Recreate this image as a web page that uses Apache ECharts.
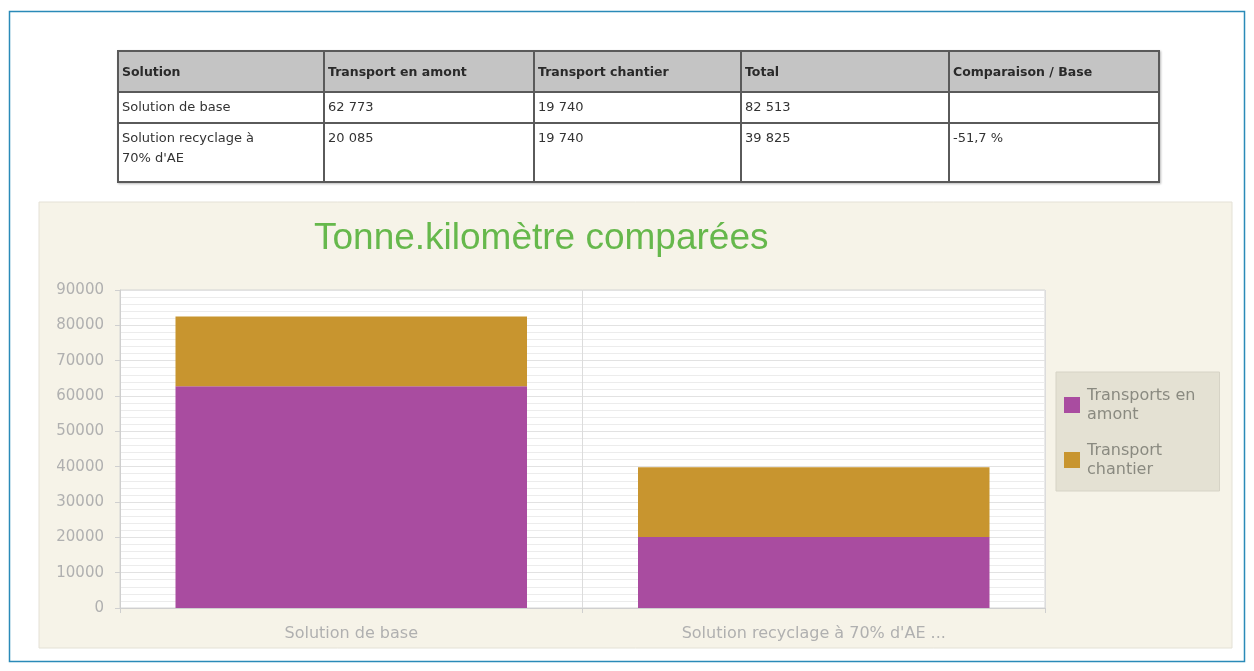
<!DOCTYPE html>
<html>
<head>
<meta charset="utf-8">
<script src="https://cdn.jsdelivr.net/npm/echarts@6/dist/echarts.min.js"></script>
<style>
html,body{margin:0;padding:0;background:#fff;width:1254px;height:671px;overflow:hidden;}
#chart{position:absolute;left:0;top:0;width:1254px;height:671px;}
#tbl{position:absolute;left:117px;top:50px;border-collapse:collapse;font-family:"DejaVu Sans",sans-serif;font-size:13px;color:#333;box-shadow:1px 1px 2px #bbb;}
#tbl td,#tbl th{border:2px solid #5a5a5a;padding:0 3px;text-align:left;}
#tbl th{background:#c4c4c4;font-weight:bold;font-size:12.5px;height:39px;vertical-align:middle;color:#2a2a2a;}
#tbl td{background:#fff;vertical-align:top;line-height:20px;padding-top:4px;}
</style>
</head>
<body>
<div id="chart"></div>
<table id="tbl"></table>
<script>
const categories = ["Solution de base", "Solution recyclage à 70% d'AE ..."];
const amont = [62773, 20085];
const chantier = [19740, 19740];
const seriesNames = ["Transports en amont", "Transport chantier"];
const tableHeader = ["Solution", "Transport en amont", "Transport chantier", "Total", "Comparaison / Base"];
const tableRows = [
  ["Solution de base", "62 773", "19 740", "82 513", ""],
  ["Solution recyclage à<br>70% d'AE", "20 085", "19 740", "39 825", "-51,7 %"]
];
const yTicks = [0, 90000, 10000];

// table
const colW = [206, 210, 207, 208, 210];
const tbl = document.getElementById('tbl');
let html = '<tr>' + tableHeader.map((h,i)=>'<th style="width:'+(colW[i]-8)+'px">'+h+'</th>').join('') + '</tr>';
tableRows.forEach((r,ri)=>{
  html += '<tr>' + r.map(c=>'<td style="height:'+(ri===0?25:53)+'px">'+c+'</td>').join('') + '</tr>';
});
tbl.innerHTML = html;

const chart = echarts.init(document.getElementById('chart'), null, {renderer:'canvas'});
const labelColor = '#b0b0b0';
chart.setOption({
  animation:false,
  backgroundColor:'#ffffff',
  graphic:[
    {type:'rect', shape:{x:9.5,y:11.5,width:1235,height:650}, style:{fill:'none',stroke:'#2a8ab8',lineWidth:1.5}, z:-10},
    {type:'rect', shape:{x:39,y:202,width:1193,height:446}, style:{fill:'#f6f3e8',stroke:'#e4e1d6',lineWidth:1}, z:-5}
  ],
  title:{
    text:'Tonne.kilomètre comparées',
    left:309, top:215,
    textStyle:{fontFamily:'Liberation Sans, Arial, sans-serif',fontSize:37,fontWeight:'normal',color:'#66b84c'}
  },
  legend:{
    orient:'vertical',
    left:1056, top:372,
    padding:[14,24,12,8],
    backgroundColor:'#e4e1d3',
    borderColor:'#d6d3c6',
    borderWidth:1,
    itemWidth:16, itemHeight:16,
    itemGap:17,
    icon:'rect',
    data:seriesNames,
    formatter:function(n){ return n==='Transports en amont' ? 'Transports en\namont' : 'Transport\nchantier'; },
    textStyle:{fontFamily:'DejaVu Sans, sans-serif',fontSize:16,color:'#8a8a80',lineHeight:19,padding:[0,0,0,2]}
  },
  grid:{left:120, top:290, width:925, height:318, show:true, backgroundColor:'#ffffff', borderColor:'#d4d4d4', borderWidth:1},
  xAxis:{
    type:'category',
    data:categories,
    axisLine:{show:true,lineStyle:{color:'#cfcfcf'}},
    axisTick:{show:true,length:5,lineStyle:{color:'#cfcfcf'}},
    splitLine:{show:true,lineStyle:{color:'#dcdcdc',width:1}},
    axisLabel:{color:labelColor,fontFamily:'DejaVu Sans, sans-serif',fontSize:16,margin:18}
  },
  yAxis:{
    type:'value',
    min:yTicks[0], max:yTicks[1], interval:yTicks[2],
    axisLine:{show:true,lineStyle:{color:'#cfcfcf'}},
    axisTick:{show:true,length:5,lineStyle:{color:'#cfcfcf'}},
    minorTick:{show:false, splitNumber:5},
    splitLine:{show:true,lineStyle:{color:'#e2e2e2'}},
    minorSplitLine:{show:true,lineStyle:{color:'#ececec'}},
    axisLabel:{color:labelColor,fontFamily:'DejaVu Sans, sans-serif',fontSize:15,margin:16,formatter:function(v){return String(v);}}
  },
  series:[
    {name:seriesNames[0], type:'bar', stack:'t', data:amont, barWidth:'76%', itemStyle:{color:'#a94ca0'}},
    {name:seriesNames[1], type:'bar', stack:'t', data:chantier, barWidth:'76%', itemStyle:{color:'#c8952f'}}
  ]
});
</script>
</body>
</html>
